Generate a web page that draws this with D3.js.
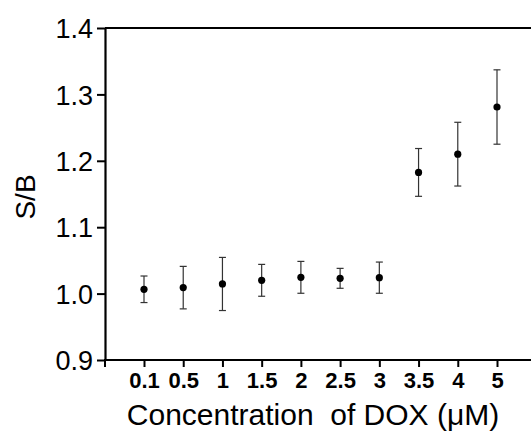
<!DOCTYPE html>
<html>
<head>
<meta charset="utf-8">
<script src="https://cdn.jsdelivr.net/npm/d3@7"></script>
<style>
  html, body { margin: 0; padding: 0; background: #fff; }
  svg { display: block; }
  text { font-family: Arial, "Liberation Sans", sans-serif; fill: #000; }
</style>
</head>
<body>
<svg id="chart" width="531" height="434"></svg>
<script>
const categories = ["0.1", "0.5", "1", "1.5", "2", "2.5", "3", "3.5", "4", "5"];
const means = [1.0065, 1.009, 1.0145, 1.020, 1.0245, 1.023, 1.024, 1.1825, 1.210, 1.281];
const errors = [0.020, 0.032, 0.040, 0.024, 0.024, 0.015, 0.0235, 0.036, 0.048, 0.056];
const yTicks = [0.9, 1.0, 1.1, 1.2, 1.3, 1.4];

(function () {
const svg = d3.select("#chart");
const mLeft = 105, mRight = 531, mTop = 28, mBottom = 360;

const x = d3.scalePoint().domain(categories).range([144, 497]);
const y = d3.scaleLinear().domain([0.9, 1.4]).range([mBottom, mTop]);

// Y axis
const yAxis = svg.append("g").attr("transform", `translate(${mLeft},0)`)
  .call(d3.axisLeft(y).tickValues(yTicks).tickFormat(d3.format(".1f")).tickSize(8).tickSizeOuter(0));
yAxis.select(".domain").attr("stroke", "#000").attr("stroke-width", 2.2);
yAxis.selectAll(".tick line").attr("stroke", "#000").attr("stroke-width", 2);
yAxis.selectAll(".tick text").attr("x", -12).attr("dy", "0.36em")
  .style("font-size", "27px").style("font-family", "Arial, 'Liberation Sans', sans-serif");

// Top border line
svg.append("line").attr("x1", mLeft).attr("x2", mRight).attr("y1", y(1.4)).attr("y2", y(1.4))
  .attr("stroke", "#000").attr("stroke-width", 2.2);

// X axis
const xAxis = svg.append("g").attr("transform", `translate(0,${mBottom})`)
  .call(d3.axisBottom(x).tickSize(7).tickSizeOuter(0));
xAxis.select(".domain").remove();
svg.append("line").attr("x1", mLeft - 1).attr("x2", mRight).attr("y1", mBottom).attr("y2", mBottom)
  .attr("stroke", "#000").attr("stroke-width", 2.2);
svg.append("line").attr("x1", mLeft).attr("x2", mLeft).attr("y1", mBottom).attr("y2", mBottom + 7)
  .attr("stroke", "#000").attr("stroke-width", 2);
xAxis.selectAll(".tick line").attr("stroke", "#000").attr("stroke-width", 2);
xAxis.selectAll(".tick text").attr("y", 12).attr("dy", "0.71em")
  .style("font-size", "22px").style("font-weight", "bold")
  .style("font-family", "Arial, 'Liberation Sans', sans-serif");

// Error bars
const g = svg.append("g");
const data = categories.map((c, i) => ({c, m: means[i], e: errors[i]}));
g.selectAll("line.eb").data(data).join("line").attr("class", "eb")
  .attr("x1", d => x(d.c)).attr("x2", d => x(d.c))
  .attr("y1", d => y(d.m + d.e)).attr("y2", d => y(d.m - d.e))
  .attr("stroke", "#333").attr("stroke-width", 1.2);
g.selectAll("line.capt").data(data).join("line").attr("class", "capt")
  .attr("x1", d => x(d.c) - 3.5).attr("x2", d => x(d.c) + 3.5)
  .attr("y1", d => y(d.m + d.e)).attr("y2", d => y(d.m + d.e))
  .attr("stroke", "#333").attr("stroke-width", 1.2);
g.selectAll("line.capb").data(data).join("line").attr("class", "capb")
  .attr("x1", d => x(d.c) - 3.5).attr("x2", d => x(d.c) + 3.5)
  .attr("y1", d => y(d.m - d.e)).attr("y2", d => y(d.m - d.e))
  .attr("stroke", "#333").attr("stroke-width", 1.2);
g.selectAll("circle").data(data).join("circle")
  .attr("cx", d => x(d.c)).attr("cy", d => y(d.m)).attr("r", 3.6).attr("fill", "#000");

// Axis titles
svg.append("text").attr("x", 313).attr("y", 425).attr("text-anchor", "middle")
  .style("font-size", "30px").style("white-space", "pre")
  .text("Concentration  of DOX (μM)");
svg.append("text").attr("transform", "translate(35,197) rotate(-90)").attr("text-anchor", "middle")
  .style("font-size", "28px").text("S/B");
})();
</script>
</body>
</html>
